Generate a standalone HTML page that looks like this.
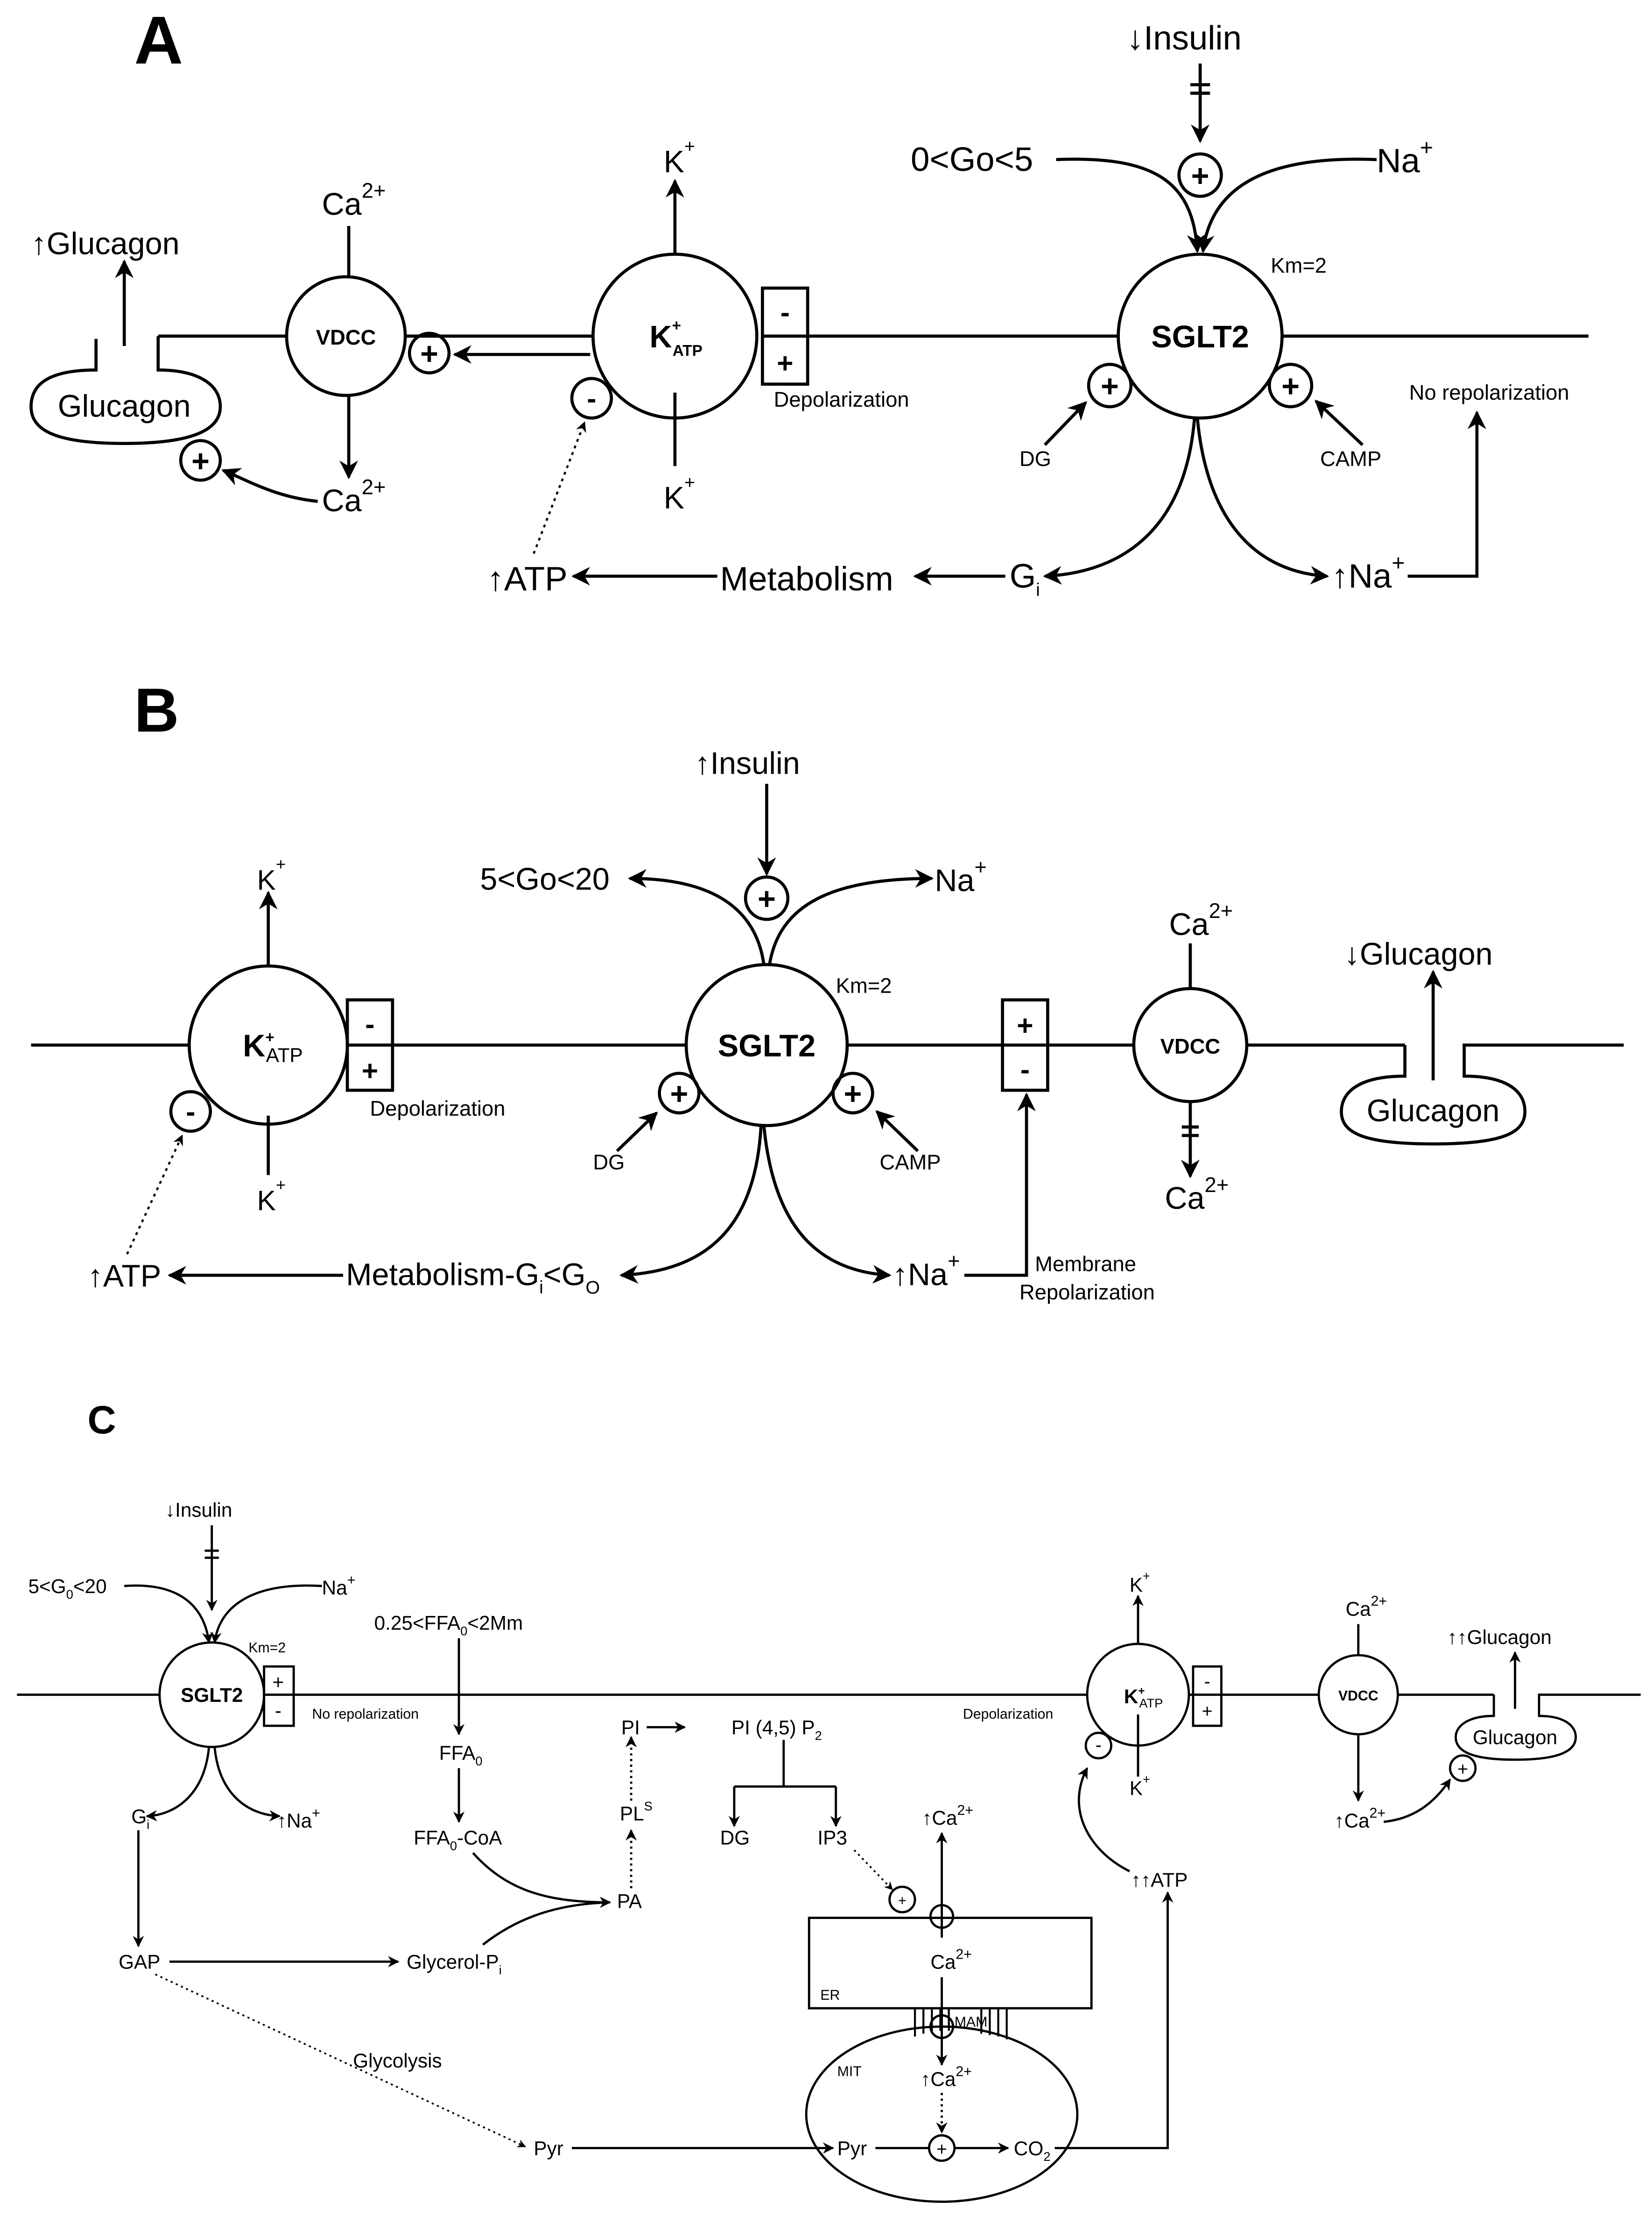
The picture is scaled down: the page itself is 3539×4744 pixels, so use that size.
<!DOCTYPE html>
<html><head><meta charset="utf-8"><style>
html,body{margin:0;padding:0;background:#fff;}
svg{display:block;}
text{font-family:"Liberation Sans",sans-serif;fill:#000;}
</style></head><body>
<svg width="3539" height="4744" viewBox="0 0 1170 1568.4" xmlns="http://www.w3.org/2000/svg">
<defs>
<marker id="a" viewBox="0 0 10 10" refX="9" refY="5" markerWidth="6" markerHeight="6" orient="auto-start-reverse"><path d="M0,0 L10,5 L0,10 L3,5 z" fill="#000"/></marker>
<marker id="s" viewBox="0 0 10 10" refX="9" refY="5" markerWidth="5" markerHeight="5" orient="auto-start-reverse"><path d="M0,0 L10,5 L0,10 L3,5 z" fill="#000"/></marker>
</defs>
<g fill="none" stroke="#000" stroke-width="2.2">
<!-- ===== PANEL A ===== -->
<line x1="112" y1="238" x2="204" y2="238"/>
<circle cx="245" cy="238" r="42"/>
<line x1="287" y1="238" x2="420" y2="238"/>
<line x1="418" y1="251" x2="322" y2="251" marker-end="url(#a)"/>
<circle cx="304" cy="250" r="14"/>
<circle cx="478" cy="238" r="58"/>
<rect x="540" y="204" width="32" height="68"/>
<line x1="540" y1="238" x2="572" y2="238"/>
<line x1="572" y1="238" x2="792" y2="238"/>
<circle cx="850" cy="238" r="58"/>
<line x1="908" y1="238" x2="1125" y2="238"/>
<path d="M68,240 V262 C30,262 22,275 22,288 C22,305 40,314 88,314 C135,314 156,305 156,288 C156,272 140,262 112,262 V238"/>
<line x1="88" y1="245" x2="88" y2="185" marker-end="url(#a)"/>
<line x1="247" y1="160" x2="247" y2="196"/>
<line x1="247" y1="280" x2="247" y2="338" marker-end="url(#a)"/>
<circle cx="142" cy="326" r="14"/>
<path d="M225,355 C195,352 175,340 158,333" marker-end="url(#a)"/>
<line x1="478" y1="180" x2="478" y2="128" marker-end="url(#a)"/>
<line x1="478" y1="278" x2="478" y2="330"/>
<circle cx="419" cy="282" r="14"/>
<line x1="378" y1="392" x2="414" y2="299" stroke-dasharray="2,3" stroke-width="1.5" marker-end="url(#s)"/>
<circle cx="786" cy="273" r="15"/>
<circle cx="914" cy="273" r="15"/>
<line x1="740" y1="315" x2="769" y2="285" marker-end="url(#a)"/>
<line x1="965" y1="315" x2="932" y2="284" marker-end="url(#a)"/>
<line x1="850" y1="45" x2="850" y2="100" marker-end="url(#a)"/>
<line x1="843" y1="60" x2="857" y2="60"/><line x1="843" y1="66" x2="857" y2="66"/>
<circle cx="850" cy="124" r="15"/>
<path d="M748,113 C820,110 845,130 848,178" marker-end="url(#a)"/>
<path d="M975,113 C900,110 858,130 852,178" marker-end="url(#a)"/>
<path d="M846,296 C840,370 800,405 740,408" marker-end="url(#a)"/>
<path d="M848,296 C855,370 890,405 940,408" marker-end="url(#a)"/>
<line x1="712" y1="408" x2="648" y2="408" marker-end="url(#a)"/>
<line x1="508" y1="408" x2="406" y2="408" marker-end="url(#a)"/>
<path d="M997,408 H1046 V292" marker-end="url(#a)"/>
<!-- ===== PANEL B ===== -->
<line x1="22" y1="740" x2="134" y2="740"/>
<circle cx="190" cy="740" r="56"/>
<rect x="246" y="708" width="32" height="64"/>
<line x1="246" y1="740" x2="278" y2="740"/>
<line x1="278" y1="740" x2="486" y2="740"/>
<circle cx="543" cy="740" r="57"/>
<line x1="600" y1="740" x2="710" y2="740"/>
<rect x="710" y="708" width="32" height="64"/>
<line x1="710" y1="740" x2="742" y2="740"/>
<line x1="742" y1="740" x2="803" y2="740"/>
<circle cx="843" cy="740" r="40"/>
<line x1="883" y1="740" x2="995" y2="740"/>
<path d="M995,740 V762 C960,762 950,775 950,787 C950,802 965,810 1015,810 C1065,810 1080,802 1080,787 C1080,773 1068,762 1037,762 V740 H1150"/>
<line x1="1015" y1="765" x2="1015" y2="688" marker-end="url(#a)"/>
<line x1="190" y1="684" x2="190" y2="632" marker-end="url(#a)"/>
<line x1="190" y1="790" x2="190" y2="832"/>
<circle cx="135" cy="787" r="14"/>
<line x1="90" y1="888" x2="129" y2="804" stroke-dasharray="2,3" stroke-width="1.5" marker-end="url(#s)"/>
<line x1="543" y1="555" x2="543" y2="619" marker-end="url(#a)"/>
<circle cx="543" cy="636" r="15"/>
<path d="M541,683 C535,640 500,622 446,622" marker-end="url(#a)"/>
<path d="M545,683 C552,640 590,622 660,622" marker-end="url(#a)"/>
<circle cx="481" cy="774" r="14"/>
<circle cx="604" cy="774" r="14"/>
<line x1="437" y1="815" x2="465" y2="788" marker-end="url(#a)"/>
<line x1="650" y1="815" x2="621" y2="787" marker-end="url(#a)"/>
<path d="M539,797 C535,870 500,900 440,903" marker-end="url(#a)"/>
<path d="M541,797 C548,870 580,900 630,903" marker-end="url(#a)"/>
<line x1="243" y1="903" x2="120" y2="903" marker-end="url(#a)"/>
<path d="M683,903 H727 V775" marker-end="url(#a)"/>
<line x1="843" y1="668" x2="843" y2="700"/>
<line x1="843" y1="780" x2="843" y2="833" marker-end="url(#a)"/>
<line x1="837" y1="798" x2="849" y2="798"/><line x1="837" y1="804" x2="849" y2="804"/>
<!-- ===== PANEL C ===== -->
<g stroke-width="1.6">
<line x1="12" y1="1200" x2="113" y2="1200"/>
<circle cx="150" cy="1200" r="37"/>
<rect x="187" y="1180" width="21" height="42"/>
<line x1="187" y1="1200" x2="208" y2="1200"/>
<line x1="208" y1="1200" x2="770" y2="1200"/>
<circle cx="806" cy="1200" r="36"/>
<line x1="842" y1="1200" x2="845" y2="1200"/>
<rect x="845" y="1180" width="20" height="42"/>
<line x1="845" y1="1200" x2="865" y2="1200"/>
<line x1="865" y1="1200" x2="934" y2="1200"/>
<circle cx="962" cy="1200" r="28"/>
<line x1="990" y1="1200" x2="1058" y2="1200"/>
<path d="M1058,1200 V1215 C1040,1215 1031,1222 1031,1230 C1031,1240 1042,1246 1073,1246 C1104,1246 1116,1240 1116,1230 C1116,1222 1108,1215 1090,1215 V1200 H1162"/>
<line x1="1073" y1="1210" x2="1073" y2="1170" marker-end="url(#s)"/>
<line x1="150" y1="1080" x2="150" y2="1140" marker-end="url(#s)"/>
<line x1="145" y1="1098" x2="155" y2="1098"/><line x1="145" y1="1103" x2="155" y2="1103"/>
<path d="M88,1123 C130,1120 145,1140 148,1163" marker-end="url(#s)"/>
<path d="M228,1123 C175,1120 155,1140 152,1163" marker-end="url(#s)"/>
<path d="M148,1237 C145,1270 125,1285 104,1286" marker-end="url(#s)"/>
<path d="M152,1237 C155,1270 175,1285 198,1286" marker-end="url(#s)"/>
<line x1="98" y1="1296" x2="98" y2="1378" marker-end="url(#s)"/>
<line x1="120" y1="1389" x2="282" y2="1389" marker-end="url(#s)"/>
<line x1="110" y1="1398" x2="372" y2="1520" stroke-dasharray="1.5,2.5" stroke-width="1.2" marker-end="url(#s)"/>
<line x1="405" y1="1521" x2="590" y2="1521" marker-end="url(#s)"/>
<ellipse cx="667" cy="1497" rx="96" ry="62"/>
<line x1="620" y1="1521" x2="658" y2="1521"/>
<circle cx="667" cy="1521" r="9"/>
<line x1="676" y1="1521" x2="714" y2="1521" marker-end="url(#s)"/>
<path d="M747,1521 H827 V1340" marker-end="url(#s)"/>
<path d="M800,1325 C770,1310 755,1280 770,1252" marker-end="url(#s)"/>
<rect x="573" y="1358" width="200" height="64"/>
<g stroke-width="1.4">
<line x1="648" y1="1422" x2="648" y2="1442"/><line x1="654" y1="1422" x2="654" y2="1440"/><line x1="660" y1="1422" x2="660" y2="1439"/><line x1="666" y1="1422" x2="666" y2="1438"/><line x1="672" y1="1422" x2="672" y2="1438"/>
<line x1="695" y1="1422" x2="695" y2="1440"/><line x1="701" y1="1422" x2="701" y2="1441"/><line x1="707" y1="1422" x2="707" y2="1442"/><line x1="713" y1="1422" x2="713" y2="1444"/>
</g>
<line x1="667" y1="1372" x2="667" y2="1298" marker-end="url(#s)"/>
<circle cx="667" cy="1357" r="8"/>
<line x1="667" y1="1400" x2="667" y2="1462" marker-end="url(#s)"/>
<circle cx="667" cy="1435" r="8"/>
<line x1="667" y1="1482" x2="667" y2="1510" stroke-dasharray="1.5,2.5" marker-end="url(#s)"/>
<line x1="325" y1="1160" x2="325" y2="1228" marker-end="url(#s)"/>
<line x1="325" y1="1252" x2="325" y2="1290" marker-end="url(#s)"/>
<path d="M335,1312 C360,1340 390,1347 432,1347" marker-end="url(#s)"/>
<path d="M342,1377 C370,1355 400,1348 432,1347"/>
<line x1="447" y1="1337" x2="447" y2="1296" stroke-dasharray="1.5,2.5" marker-end="url(#s)"/>
<line x1="447" y1="1275" x2="447" y2="1230" stroke-dasharray="1.5,2.5" marker-end="url(#s)"/>
<line x1="458" y1="1223" x2="485" y2="1223" marker-end="url(#s)"/>
<line x1="555" y1="1232" x2="555" y2="1265"/>
<line x1="520" y1="1265" x2="592" y2="1265"/>
<line x1="520" y1="1265" x2="520" y2="1293" marker-end="url(#s)"/>
<line x1="592" y1="1265" x2="592" y2="1293" marker-end="url(#s)"/>
<line x1="605" y1="1310" x2="632" y2="1338" stroke-dasharray="1.5,2.5" stroke-width="1.2" marker-end="url(#s)"/>
<circle cx="639" cy="1345" r="9"/>
<line x1="806" y1="1164" x2="806" y2="1130" marker-end="url(#s)"/>
<line x1="806" y1="1214" x2="806" y2="1258"/>
<circle cx="778" cy="1236" r="9"/>
<line x1="962" y1="1150" x2="962" y2="1172"/>
<line x1="962" y1="1228" x2="962" y2="1275" marker-end="url(#s)"/>
<path d="M980,1290 C1000,1288 1015,1278 1027,1260" marker-end="url(#s)"/>
<circle cx="1036" cy="1252" r="9"/>
</g>
</g>
<!-- TEXT A -->
<text x="95" y="45" font-size="48" font-weight="bold">A</text>
<text x="22" y="180" font-size="22">↑Glucagon</text>
<text x="88" y="295" font-size="22" text-anchor="middle">Glucagon</text>
<text x="245" y="244" font-size="15" font-weight="bold" text-anchor="middle">VDCC</text>
<text x="304" y="258" font-size="22" font-weight="bold" text-anchor="middle">+</text>
<text x="142" y="334" font-size="22" font-weight="bold" text-anchor="middle">+</text>
<text x="228" y="152" font-size="22">Ca<tspan dy="-12" font-size="15">2+</tspan></text>
<text x="228" y="362" font-size="22">Ca<tspan dy="-12" font-size="15">2+</tspan></text>
<text x="470" y="122" font-size="22">K<tspan dy="-14" font-size="13">+</tspan></text>
<text x="470" y="360" font-size="22">K<tspan dy="-14" font-size="13">+</tspan></text>
<text x="460" y="246" font-size="22" font-weight="bold">K<tspan dy="-12" font-size="11">+</tspan><tspan dy="18" dx="-6" font-size="11">ATP</tspan></text>
<text x="419" y="289" font-size="20" font-weight="bold" text-anchor="middle">-</text>
<text x="556" y="228" font-size="20" font-weight="bold" text-anchor="middle">-</text>
<text x="556" y="264" font-size="20" font-weight="bold" text-anchor="middle">+</text>
<text x="548" y="288" font-size="15">Depolarization</text>
<text x="850" y="246" font-size="22" font-weight="bold" text-anchor="middle">SGLT2</text>
<text x="900" y="193" font-size="15">Km=2</text>
<text x="786" y="281" font-size="22" font-weight="bold" text-anchor="middle">+</text>
<text x="914" y="281" font-size="22" font-weight="bold" text-anchor="middle">+</text>
<text x="850" y="132" font-size="22" font-weight="bold" text-anchor="middle">+</text>
<text x="722" y="330" font-size="15">DG</text>
<text x="935" y="330" font-size="15">CAMP</text>
<text x="798" y="35" font-size="24">↓Insulin</text>
<text x="645" y="121" font-size="24">0&lt;Go&lt;5</text>
<text x="975" y="122" font-size="24">Na<tspan dy="-12" font-size="16">+</tspan></text>
<text x="998" y="283" font-size="15">No repolarization</text>
<text x="715" y="416" font-size="24">G<tspan dy="6" font-size="13">i</tspan></text>
<text x="510" y="418" font-size="24">Metabolism</text>
<text x="345" y="418" font-size="24">↑ATP</text>
<text x="943" y="416" font-size="24">↑Na<tspan dy="-12" font-size="16">+</tspan></text>
<!-- TEXT B -->
<text x="95" y="518" font-size="44" font-weight="bold">B</text>
<text x="492" y="548" font-size="22">↑Insulin</text>
<text x="340" y="630" font-size="22">5&lt;Go&lt;20</text>
<text x="662" y="631" font-size="22">Na<tspan dy="-12" font-size="15">+</tspan></text>
<text x="543" y="644" font-size="22" font-weight="bold" text-anchor="middle">+</text>
<text x="543" y="748" font-size="22" font-weight="bold" text-anchor="middle">SGLT2</text>
<text x="592" y="703" font-size="15">Km=2</text>
<text x="481" y="782" font-size="22" font-weight="bold" text-anchor="middle">+</text>
<text x="604" y="782" font-size="22" font-weight="bold" text-anchor="middle">+</text>
<text x="420" y="828" font-size="15">DG</text>
<text x="623" y="828" font-size="15">CAMP</text>
<text x="182" y="630" font-size="20">K<tspan dy="-14" font-size="12">+</tspan></text>
<text x="182" y="857" font-size="20">K<tspan dy="-14" font-size="12">+</tspan></text>
<text x="172" y="748" font-size="22" font-weight="bold">K<tspan dy="-10" font-size="11">+</tspan><tspan dy="14" dx="-6" font-size="14" font-weight="normal">ATP</tspan></text>
<text x="135" y="794" font-size="20" font-weight="bold" text-anchor="middle">-</text>
<text x="262" y="732" font-size="20" font-weight="bold" text-anchor="middle">-</text>
<text x="262" y="765" font-size="20" font-weight="bold" text-anchor="middle">+</text>
<text x="726" y="733" font-size="20" font-weight="bold" text-anchor="middle">+</text>
<text x="726" y="764" font-size="20" font-weight="bold" text-anchor="middle">-</text>
<text x="262" y="790" font-size="15">Depolarization</text>
<text x="245" y="910" font-size="22">Metabolism-G<tspan dy="6" font-size="13">i</tspan><tspan dy="-6">&lt;G</tspan><tspan dy="6" font-size="13">O</tspan></text>
<text x="62" y="911" font-size="22">↑ATP</text>
<text x="632" y="910" font-size="22">↑Na<tspan dy="-12" font-size="15">+</tspan></text>
<text x="733" y="900" font-size="15">Membrane</text>
<text x="722" y="920" font-size="15">Repolarization</text>
<text x="843" y="746" font-size="15" font-weight="bold" text-anchor="middle">VDCC</text>
<text x="828" y="662" font-size="22">Ca<tspan dy="-12" font-size="15">2+</tspan></text>
<text x="825" y="856" font-size="22">Ca<tspan dy="-12" font-size="15">2+</tspan></text>
<text x="952" y="683" font-size="22">↓Glucagon</text>
<text x="1015" y="794" font-size="22" text-anchor="middle">Glucagon</text>
<!-- TEXT C -->
<text x="62" y="1015" font-size="28" font-weight="bold">C</text>
<text x="117" y="1074" font-size="14">↓Insulin</text>
<text x="20" y="1128" font-size="14">5&lt;G<tspan dy="4" font-size="9">0</tspan><tspan dy="-4">&lt;20</tspan></text>
<text x="228" y="1129" font-size="14">Na<tspan dy="-7" font-size="10">+</tspan></text>
<text x="150" y="1205" font-size="14" font-weight="bold" text-anchor="middle">SGLT2</text>
<text x="176" y="1170" font-size="10">Km=2</text>
<text x="197" y="1196" font-size="14" text-anchor="middle">+</text>
<text x="197" y="1216" font-size="14" text-anchor="middle">-</text>
<text x="221" y="1217" font-size="10">No repolarization</text>
<text x="93" y="1291" font-size="14">G<tspan dy="4" font-size="9">i</tspan></text>
<text x="196" y="1294" font-size="14">↑Na<tspan dy="-7" font-size="10">+</tspan></text>
<text x="84" y="1394" font-size="14">GAP</text>
<text x="288" y="1394" font-size="14">Glycerol-P<tspan dy="4" font-size="9">i</tspan></text>
<text x="250" y="1464" font-size="14">Glycolysis</text>
<text x="378" y="1526" font-size="14">Pyr</text>
<text x="593" y="1526" font-size="14">Pyr</text>
<text x="667" y="1526" font-size="13" text-anchor="middle">+</text>
<text x="718" y="1526" font-size="14">CO<tspan dy="4" font-size="9">2</tspan></text>
<text x="593" y="1470" font-size="10">MIT</text>
<text x="581" y="1416" font-size="10">ER</text>
<text x="676" y="1435" font-size="10">MAM</text>
<text x="653" y="1292" font-size="14">↑Ca<tspan dy="-7" font-size="10">2+</tspan></text>
<text x="659" y="1394" font-size="14">Ca<tspan dy="-7" font-size="10">2+</tspan></text>
<text x="652" y="1477" font-size="14">↑Ca<tspan dy="-7" font-size="10">2+</tspan></text>
<text x="639" y="1349" font-size="10" text-anchor="middle">+</text>
<text x="265" y="1154" font-size="14">0.25&lt;FFA<tspan dy="4" font-size="9">0</tspan><tspan dy="-4">&lt;2Mm</tspan></text>
<text x="311" y="1246" font-size="14">FFA<tspan dy="4" font-size="9">0</tspan></text>
<text x="293" y="1306" font-size="14">FFA<tspan dy="4" font-size="9">0</tspan><tspan dy="-4">-CoA</tspan></text>
<text x="437" y="1351" font-size="14">PA</text>
<text x="439" y="1289" font-size="14">PL<tspan dy="-7" font-size="9">S</tspan></text>
<text x="440" y="1228" font-size="14">PI</text>
<text x="518" y="1228" font-size="14">PI (4,5) P<tspan dy="4" font-size="9">2</tspan></text>
<text x="510" y="1306" font-size="14">DG</text>
<text x="579" y="1306" font-size="14">IP3</text>
<text x="682" y="1217" font-size="10">Depolarization</text>
<text x="796" y="1206" font-size="14" font-weight="bold">K<tspan dy="-6" font-size="8">+</tspan><tspan dy="9" dx="-4" font-size="9" font-weight="normal">ATP</tspan></text>
<text x="778" y="1240" font-size="13" text-anchor="middle">-</text>
<text x="855" y="1195" font-size="13" text-anchor="middle">-</text>
<text x="855" y="1216" font-size="13" text-anchor="middle">+</text>
<text x="800" y="1127" font-size="14">K<tspan dy="-8" font-size="9">+</tspan></text>
<text x="800" y="1271" font-size="14">K<tspan dy="-8" font-size="9">+</tspan></text>
<text x="801" y="1336" font-size="14">↑↑ATP</text>
<text x="962" y="1204" font-size="10" font-weight="bold" text-anchor="middle">VDCC</text>
<text x="953" y="1144" font-size="14">Ca<tspan dy="-7" font-size="10">2+</tspan></text>
<text x="945" y="1294" font-size="14">↑Ca<tspan dy="-7" font-size="10">2+</tspan></text>
<text x="1025" y="1164" font-size="14">↑↑Glucagon</text>
<text x="1073" y="1235" font-size="14" text-anchor="middle">Glucagon</text>
<text x="1036" y="1257" font-size="13" text-anchor="middle">+</text>
</svg>
</body></html>
